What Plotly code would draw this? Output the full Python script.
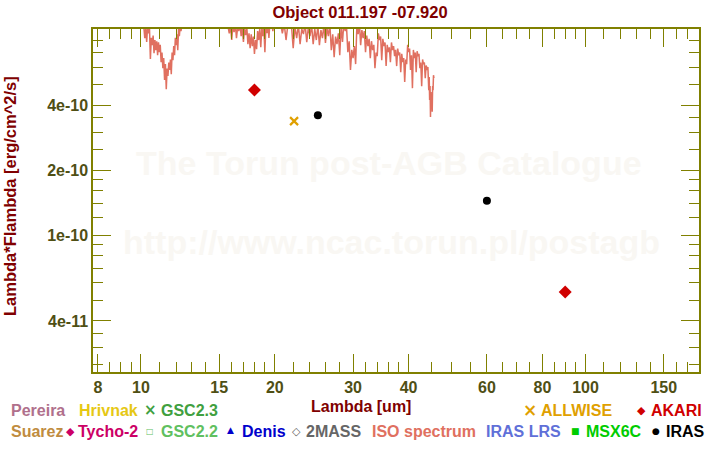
import math
import plotly.graph_objects as go

# ---------------- data ----------------
title_text = "Object 011.197 -07.920"

# ISO spectrum (wavelength in um, lambda*F_lambda in units of 1e-10 erg/cm^2/s)
iso_wave = [10.1, 10.15, 10.2, 10.25, 10.3, 10.35, 10.4, 10.45, 10.5, 10.55, 10.6, 10.65, 10.7,
            10.75, 10.8, 10.85, 10.9, 10.95, 11.0, 11.05, 11.1, 11.15, 11.2, 11.25, 11.3, 11.35,
            11.4, 11.45, 11.5, 11.55, 11.6, 11.65, 11.7, 11.75, 11.8, 11.85, 11.9, 11.95, 12.0,
            12.05, 12.1, 12.15, 12.2, 12.25, 12.3, 12.4, 12.6, 13.0, 13.5, 14.0, 14.5, 15.0,
            15.3, 15.6, 15.7, 15.8, 15.9, 16.0, 16.1, 16.2, 16.3, 16.4, 16.5, 16.6, 16.7, 16.8,
            16.9, 17.0, 17.1, 17.2, 17.3, 17.4, 17.5, 17.6, 17.7, 17.8, 17.9, 18.0, 18.1, 18.2,
            18.3, 18.4, 18.5, 18.6, 18.7, 18.8, 18.9, 19.0, 19.1, 19.2, 19.3, 19.4, 19.5, 19.6,
            19.7, 19.8, 19.9, 20.0, 20.2, 20.4, 20.6, 20.8, 21.0, 21.2, 21.4, 21.6, 21.8, 22.0,
            22.2, 22.4, 22.6, 22.8, 23.0, 23.2, 23.4, 23.6, 23.8, 24.0, 24.2, 24.4, 24.6, 24.8,
            25.0, 25.2, 25.4, 25.6, 25.8, 26.0, 26.2, 26.4, 26.6, 26.8, 27.0, 27.2, 27.4, 27.6,
            27.8, 28.0, 28.2, 28.4, 28.6, 28.8, 29.0, 29.2, 29.4, 29.6, 29.8, 30.0, 30.2, 30.4,
            30.6, 30.8, 31.0, 31.2, 31.4, 31.6, 31.8, 32.0, 32.2, 32.4, 32.6, 32.8, 33.0, 33.2,
            33.4, 33.6, 33.8, 34.0, 34.2, 34.4, 34.6, 34.8, 35.0, 35.2, 35.4, 35.6, 35.8, 36.0,
            36.2, 36.4, 36.6, 36.8, 37.0, 37.2, 37.4, 37.6, 37.8, 38.0, 38.2, 38.4, 38.6, 38.8,
            39.0, 39.2, 39.4, 39.6, 39.8, 40.0, 40.2, 40.4, 40.6, 40.8, 41.0, 41.2, 41.4, 41.6,
            41.8, 42.0, 42.2, 42.4, 42.6, 42.8, 43.0, 43.2, 43.4, 43.6, 43.8, 44.0, 44.2, 44.4,
            44.5, 44.6, 44.7, 44.8, 44.9, 45.0, 45.1, 45.2, 45.3, 45.4, 45.5, 45.6]
iso_flux_e10 = [9.6, 9.2, 8.17, 9.0, 7.83, 9.3, 8.6, 9.1, 6.53, 8.2, 7.58, 8.4, 6.96,
                8.0, 7.18, 7.9, 6.81, 7.8, 7.03, 7.6, 6.32, 7.0, 5.93, 6.6, 5.22, 6.2,
                4.74, 5.9, 5.45, 6.3, 5.81, 6.5, 5.56, 7.0, 6.46, 7.5, 6.81, 8.2, 7.58,
                8.5, 7.18, 9.0, 8.34, 9.3, 8.8, 9.6, 10.5, 11.5, 12.0, 12.5, 12.0, 11.0,
                10.2, 9.5, 9.2, 8.6, 9.3, 8.0, 9.4, 8.71, 9.5, 8.17, 9.2, 8.8, 9.6, 8.34,
                9.1, 7.83, 9.0, 8.43, 9.2, 7.66, 8.6, 7.34, 8.5, 7.50, 8.3, 6.89, 8.0, 7.26,
                8.8, 8.0, 9.0, 7.42, 9.2, 8.34, 9.1, 7.03, 9.4, 8.6, 9.5, 8.17, 9.6, 9.4,
                9.6, 8.8, 9.6, 9.5, 9.8, 9.5, 9.6, 8.6, 9.5, 8.0, 9.4, 9.3, 9.4, 7.34,
                9.2, 8.17, 9.4, 7.66, 9.0, 8.52, 9.5, 7.83, 9.2, 8.34, 9.4, 7.66, 9.0, 8.0,
                9.3, 7.58, 8.9, 8.17, 9.4, 7.75, 9.1, 8.34, 9.5, 7.18, 8.5, 6.67, 8.3, 7.66,
                8.6, 6.81, 9.3, 7.83, 9.6, 8.8, 9.2, 7.03, 7.9, 5.81, 7.2, 6.6, 7.5, 6.19,
                9.4, 8.52, 9.6, 7.58, 8.9, 8.17, 8.8, 7.03, 8.4, 7.50, 8.1, 6.6, 7.9, 7.18,
                7.6, 5.93, 7.0, 6.74, 8.6, 8.0, 8.3, 6.46, 8.1, 7.5, 7.8, 6.06, 7.6, 7.03,
                7.4, 6.32, 7.8, 7.18, 7.5, 6.74, 7.2, 6.06, 7.3, 6.81, 7.0, 5.68, 6.9, 6.32,
                6.6, 5.11, 6.5, 6.19, 7.6, 7.03, 7.3, 5.81, 6.8, 4.79, 7.2, 6.6, 7.0, 5.68,
                7.1, 6.74, 6.9, 5.93, 6.3, 4.89, 6.5, 6.19, 6.3, 5.33, 6.1, 5.81, 6.0, 4.69,
                5.4, 4.22, 4.9, 3.52, 4.6, 4.11, 4.5, 3.72, 4.9, 4.69, 5.5, 5.33]
iso_flux = [v * 1e-10 for v in iso_flux_e10]

akari_wave = [18.0, 90.0]
akari_flux = [4.69e-10, 5.45e-11]

allwise_wave = [22.1]
allwise_flux = [3.37e-10]

iras_wave = [25.0, 60.0]
iras_flux = [3.59e-10, 1.44e-10]

x_tick_vals = [8, 10, 15, 20, 30, 40, 60, 80, 100, 150]
x_tick_text = ["8", "10", "15", "20", "30", "40", "60", "80", "100", "150"]
x_minor_vals = [8.5, 9, 9.5, 11, 12, 13, 14, 16, 17, 18, 19, 22, 24, 26, 28, 32, 34, 36, 38,
                45, 50, 55, 65, 70, 75, 85, 90, 95, 110, 120, 130, 140, 160, 170]
y_tick_vals = [4e-11, 1e-10, 2e-10, 4e-10]
y_tick_text = ["4e-11", "1e-10", "2e-10", "4e-10"]
y_minor_vals = [2.5e-11, 3e-11, 3.5e-11, 5e-11, 6e-11, 7e-11, 8e-11, 9e-11,
                1.2e-10, 1.4e-10, 1.6e-10, 1.8e-10, 2.5e-10, 3e-10, 3.5e-10,
                5e-10, 6e-10, 7e-10, 8e-10]

x_range = [7.8, 180.0]
y_range = [2.32e-11, 9.0e-10]

# legend labels (text, colour)
legend_row1 = [("Pereira", "#B0708C"), ("Hrivnak", "#E6C814"), ("GSC2.3", "#40A040"),
               ("ALLWISE", "#E0A000"), ("AKARI", "#D00000")]
legend_row2 = [("Suarez", "#C08C40"), ("Tycho-2", "#CC0066"), ("GSC2.2", "#60C060"),
               ("Denis", "#0000CC"), ("2MASS", "#666666"), ("ISO spectrum", "#E07060"),
               ("IRAS LRS", "#6070D8"), ("MSX6C", "#00CC00"), ("IRAS", "#000000")]

# ---------------- layout helpers ----------------
W, H = 720, 450
L, R, T, B = 93, 21, 29, 78
PW, PH = W - L - R, H - T - B

def px(x):
    return (x - L) / PW

def py(y):
    return (H - B - y) / PH

FONT = "Liberation Sans, Arial, sans-serif"
OLIVE = "#808000"
TICKLAB = "#4F4F14"
DARKRED = "#800000"

fig = go.Figure()

fig.add_trace(go.Scatter(x=iso_wave, y=iso_flux, mode="lines",
                         line=dict(color="#E07060", width=1.5), showlegend=False))
fig.add_trace(go.Scatter(x=akari_wave, y=akari_flux, mode="markers",
                         marker=dict(symbol="diamond", size=10, color="#D00000"),
                         showlegend=False))
fig.add_trace(go.Scatter(x=allwise_wave, y=allwise_flux, mode="markers",
                         marker=dict(symbol="x-thin", size=8, color="#E0A000",
                                     line=dict(color="#E0A000", width=2.2)),
                         showlegend=False))
fig.add_trace(go.Scatter(x=iras_wave, y=iras_flux, mode="markers",
                         marker=dict(symbol="circle", size=8, color="#000000"),
                         showlegend=False))

axis_common = dict(
    type="log", showgrid=False, zeroline=False, showline=True, linecolor=OLIVE,
    linewidth=1.5, mirror="allticks", ticks="inside", ticklen=18, tickwidth=1.2,
    tickcolor=OLIVE, tickmode="array",
    tickfont=dict(family=FONT, size=16, color=TICKLAB, weight="bold"),
)

fig.update_xaxes(**axis_common, range=[math.log10(x_range[0]), math.log10(x_range[1])],
                 tickvals=x_tick_vals, ticktext=x_tick_text,
                 minor=dict(tickmode="array", tickvals=x_minor_vals, ticks="inside",
                            ticklen=10, tickwidth=1.2, tickcolor=OLIVE, showgrid=False))
fig.update_yaxes(**axis_common, range=[math.log10(y_range[0]), math.log10(y_range[1])],
                 tickvals=y_tick_vals, ticktext=y_tick_text,
                 minor=dict(tickmode="array", tickvals=y_minor_vals, ticks="inside",
                            ticklen=10, tickwidth=1.2, tickcolor=OLIVE, showgrid=False))

annotations = []
# watermark
annotations.append(dict(text="The Torun post-AGB Catalogue", x=px(389), y=py(163),
                        xref="paper", yref="paper", showarrow=False,
                        font=dict(family=FONT, size=34, color="#F9F7F3", weight="bold")))
annotations.append(dict(text="http://www.ncac.torun.pl/postagb", x=px(391), y=py(263),
                        xref="paper", yref="paper", showarrow=False,
                        font=dict(family=FONT, size=34, color="#F9F7F3", weight="bold")))
# axis titles
annotations.append(dict(text="Lambda [um]", x=px(361), y=py(407), xref="paper", yref="paper",
                        showarrow=False, xanchor="center", yanchor="middle",
                        font=dict(family=FONT, size=16, color=DARKRED, weight="bold")))
annotations.append(dict(text="Lambda*Flambda [erg/cm^2/s]", x=px(10), y=py(196),
                        xref="paper", yref="paper", showarrow=False, textangle=-90,
                        xanchor="center", yanchor="middle",
                        font=dict(family=FONT, size=16.5, color=DARKRED, weight="bold")))

# legend text (left positions in px)
row1_x = [9, 77, 159, 539, 649]
row2_x = [9, 76, 159, 240, 304, 370, 484, 584, 664]
for (txt, col), x in zip(legend_row1, row1_x):
    annotations.append(dict(text=txt, x=px(x), y=py(410), xref="paper", yref="paper",
                            showarrow=False, xanchor="left", yanchor="middle",
                            font=dict(family=FONT, size=16, color=col, weight="bold")))
for (txt, col), x in zip(legend_row2, row2_x):
    annotations.append(dict(text=txt, x=px(x), y=py(431), xref="paper", yref="paper",
                            showarrow=False, xanchor="left", yanchor="middle",
                            font=dict(family=FONT, size=16, color=col, weight="bold")))
# legend symbols (centre px, y px, char, colour, size)
symbols = [(150, 410, "×", "#40A040", 15), (530, 410, "×", "#E0A000", 17),
           (641, 410, "◆", "#D00000", 11), (70, 431, "◆", "#CC0066", 11),
           (150, 431, "□", "#60C060", 8), (230, 430, "▲", "#0000CC", 9),
           (296, 431, "◇", "#606060", 11), (575.5, 431, "■", "#00CC00", 9),
           (655.5, 431, "●", "#000000", 9)]
for x, y, ch, col, sz in symbols:
    annotations.append(dict(text=ch, x=px(x), y=py(y), xref="paper", yref="paper",
                            showarrow=False, xanchor="center", yanchor="middle",
                            font=dict(family="DejaVu Sans", size=sz, color=col, weight="bold")))

fig.update_layout(
    width=W, height=H, autosize=False,
    margin=dict(l=L, r=R, t=T, b=B, pad=0),
    paper_bgcolor="white", plot_bgcolor="white",
    title=dict(text=title_text, x=0.5, xref="container", xanchor="center",
               y=1 - 12 / H, yref="container", yanchor="middle",
               font=dict(family=FONT, size=16.5, color=DARKRED, weight="bold")),
    annotations=annotations,
    showlegend=False,
)

fig.write_html("out.html")
